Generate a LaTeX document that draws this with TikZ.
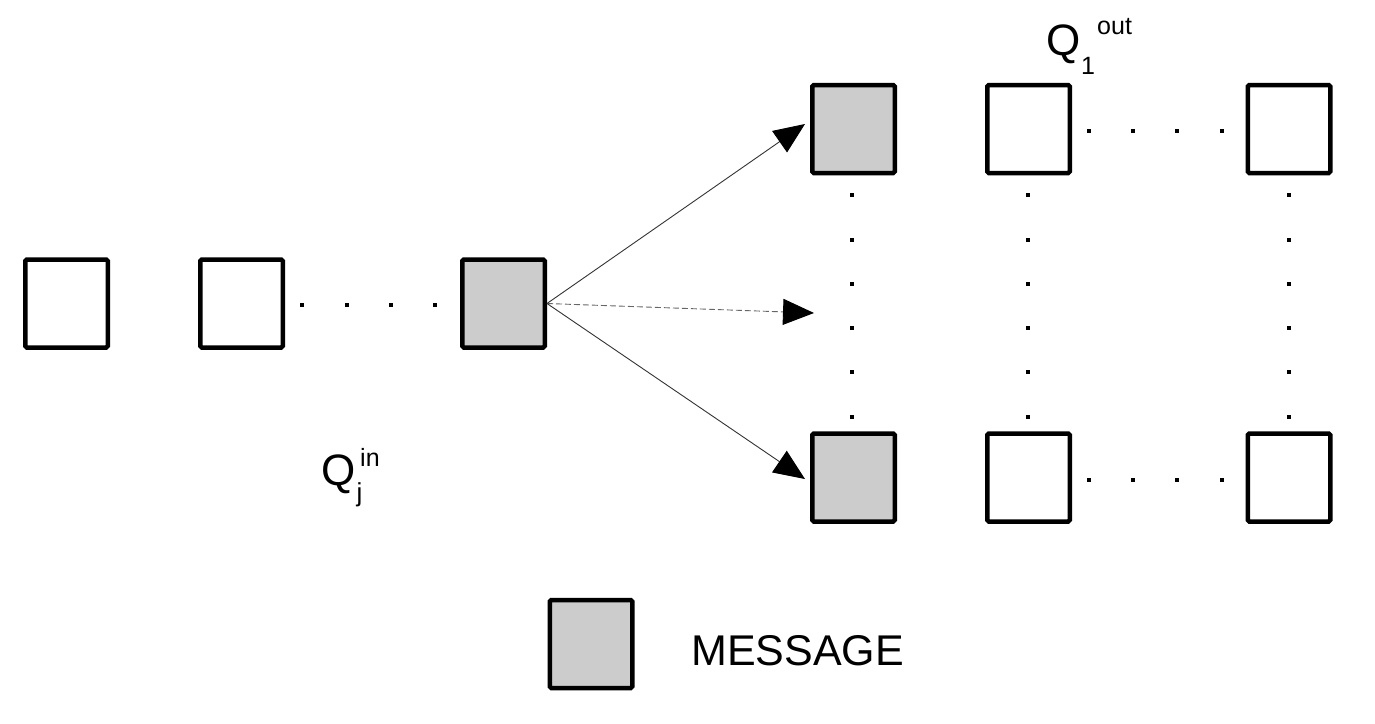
\documentclass[tikz,border=0pt]{standalone}
\usepackage{fontspec}
\setmainfont{Liberation Sans}
\usetikzlibrary{arrows.meta}
\definecolor{msggray}{HTML}{CCCCCC}
\definecolor{linegray}{HTML}{333333}
\begin{document}
\begin{tikzpicture}[x=1pt,y=-1pt,
  qbox/.style={draw=black, line width=4.5pt, minimum width=82.5pt, minimum height=88pt,
    inner sep=0pt, rounded corners=1.5pt, fill=white},
  msgbox/.style={qbox, fill=msggray},
  flow/.style={draw=linegray, line width=0.9pt,
    -{Triangle[length=31pt,width=26pt,color=black,fill=black]}},
  dflow/.style={flow, draw=gray!80!black, dash pattern=on 6pt off 3pt},
  lbl/.style={anchor=base west, inner sep=0pt, text=black},
  dotsq/.style={fill=black}
]
\useasboundingbox (0,0) rectangle (1375,723);

% input queue
\node[qbox]   (L1) at (66.5,303.5) {};
\node[qbox]   (L2) at (241.5,303.5) {};
\node[msgbox] (L3) at (503.5,303.5) {};

% output queues
\node[msgbox] (T1) at (853.5,129) {};
\node[qbox]   (T2) at (1028.5,129) {};
\node[qbox]   (T3) at (1289,129) {};
\node[msgbox] (B1) at (853.5,477.5) {};
\node[qbox]   (B2) at (1028.5,477.5) {};
\node[qbox]   (B3) at (1289,477.5) {};

% legend
\node[msgbox] (LG) at (591,644) {};
\node[lbl] (LGT) at (691,665) {\fontsize{43}{48}\selectfont MESSAGE};

% dots
\foreach \x in {302,347,391,435} \fill[dotsq] (\x-2.25,302.75) rectangle ++(4.5,4.5);
\foreach \x in {1089,1133,1177,1222} {
  \fill[dotsq] (\x-2.25,128.75) rectangle ++(4.5,4.5);
  \fill[dotsq] (\x-2.25,477.75) rectangle ++(4.5,4.5);
}
\foreach \cx in {852,1028,1289}
  \foreach \y in {195,240,284,328,372,417}
    \fill[dotsq] (\cx-2.25,\y-2.25) rectangle ++(4.5,4.5);

% arrows
\coordinate (tipT) at (805,124);
\coordinate (tipM) at (814,313);
\coordinate (tipB) at (805,479);
\draw[flow] (L3.east) -- (tipT);
\draw[dflow] (L3.east) -- (tipM);
\draw[flow] (L3.east) -- (tipB);

% labels
\node[lbl] (Qo) at (1046,55) {\fontsize{44}{48}\selectfont Q};
\node[lbl] (Qo1) at (1081,74) {\fontsize{25}{28}\selectfont 1};
\node[lbl] (Qoo) at (1097,34) {\fontsize{25}{28}\selectfont out};

\node[lbl] (Qi) at (321,485) {\fontsize{44}{48}\selectfont Q};
\node[lbl] (Qij) at (356.5,501) {\fontsize{26}{28}\selectfont j};
\node[lbl] (Qii) at (360,466) {\fontsize{25}{28}\selectfont in};
\end{tikzpicture}
\end{document}
